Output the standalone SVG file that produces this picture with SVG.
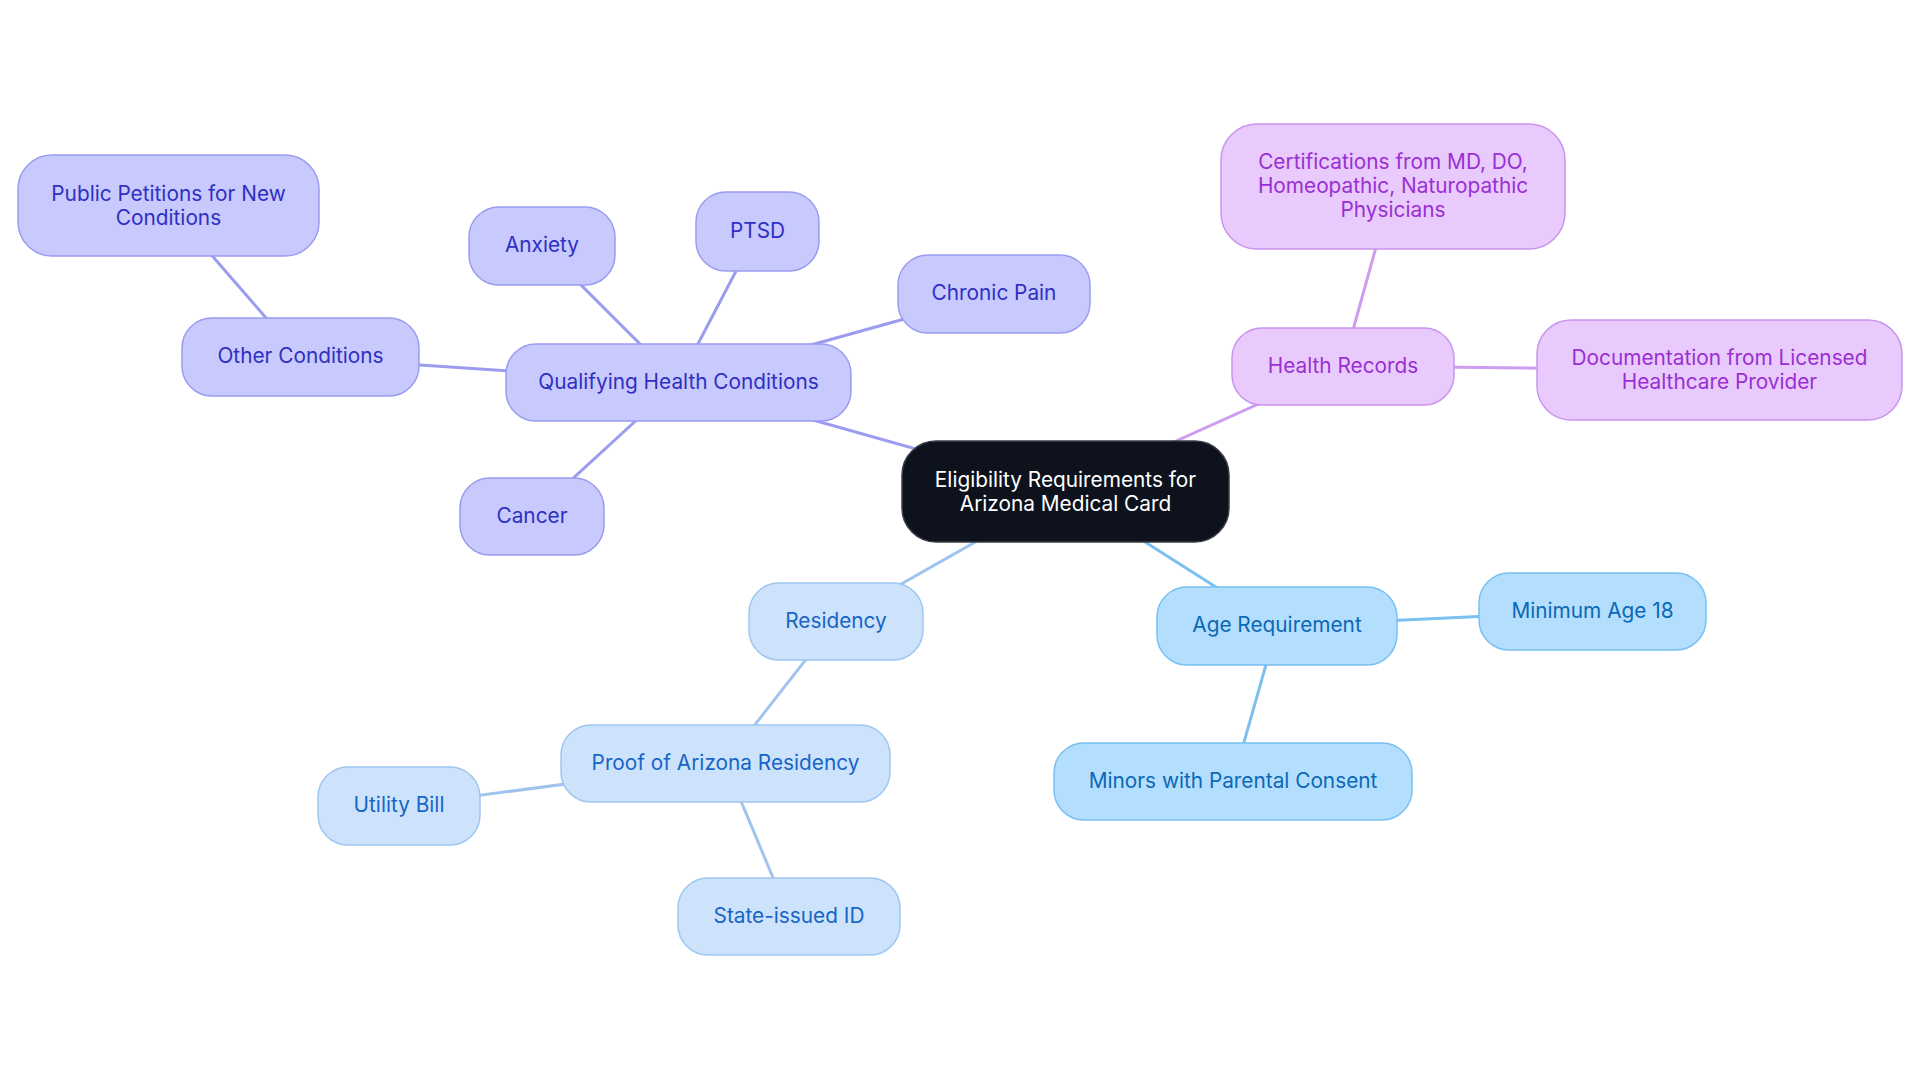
<svg xmlns="http://www.w3.org/2000/svg" width="1920" height="1083" viewBox="0 0 1920 1083">
<style>
text{font-family:Inter,"Noto Sans",sans-serif;font-size:20.8px;text-anchor:middle}
.c0 rect{fill:#0d121c;stroke:#3a3f47;stroke-width:1.5}
.c0 text{fill:#ffffff}
.p rect{fill:#c8c9fd;stroke:#9a9cf0;stroke-width:1.5}
.p text{fill:#2f2fc4}
.k rect{fill:#e8cafd;stroke:#cb93ed;stroke-width:1.5}
.k text{fill:#9a2fd3}
.r rect{fill:#cde3fb;stroke:#9ec6f1;stroke-width:1.5}
.r text{fill:#1765c6}
.a rect{fill:#b4defd;stroke:#78c0f1;stroke-width:1.5}
.a text{fill:#0b69b6}
#edges line{stroke-width:3;fill:none}
.ep{stroke:#9b9cef}
.ek{stroke:#cf9df0}
.er{stroke:#9fc5ef}
.ea{stroke:#7cc0ef}
</style>
<rect width="1920" height="1083" fill="#ffffff"/>
<g id="edges">
<line class="ep" x1="1065" y1="491" x2="678" y2="382"/>
<line class="ep" x1="678" y1="382" x2="542" y2="246"/>
<line class="ep" x1="678" y1="382" x2="757" y2="231"/>
<line class="ep" x1="678" y1="382" x2="994" y2="294"/>
<line class="ep" x1="678" y1="382" x2="300" y2="357"/>
<line class="ep" x1="300" y1="357" x2="168" y2="205"/>
<line class="ep" x1="678" y1="382" x2="532" y2="516"/>
<line class="ek" x1="1065" y1="491" x2="1343" y2="366"/>
<line class="ek" x1="1343" y1="366" x2="1393" y2="186"/>
<line class="ek" x1="1343" y1="366" x2="1719" y2="370"/>
<line class="er" x1="1065" y1="491" x2="836" y2="621"/>
<line class="er" x1="836" y1="621" x2="725" y2="763"/>
<line class="er" x1="725" y1="763" x2="399" y2="806"/>
<line class="er" x1="725" y1="763" x2="789" y2="916"/>
<line class="ea" x1="1065" y1="491" x2="1277" y2="626"/>
<line class="ea" x1="1277" y1="626" x2="1592" y2="611"/>
<line class="ea" x1="1277" y1="626" x2="1233" y2="781"/>
</g>
<g id="n-center" class="c0"><rect x="902" y="441" width="327" height="101" rx="34"/><text x="1065.5" y="486.5">Eligibility Requirements for</text><text x="1065.5" y="510.5">Arizona Medical Card</text></g>
<g id="n-qhc" class="p"><rect x="506" y="344" width="345" height="77" rx="30"/><text x="678.5" y="388.5">Qualifying Health Conditions</text></g>
<g id="n-anxiety" class="p"><rect x="469" y="207" width="146" height="78" rx="30"/><text x="542" y="252">Anxiety</text></g>
<g id="n-ptsd" class="p"><rect x="696" y="192" width="123" height="79" rx="30"/><text x="757.5" y="237.5">PTSD</text></g>
<g id="n-chronic" class="p"><rect x="898" y="255" width="192" height="78" rx="30"/><text x="994" y="300">Chronic Pain</text></g>
<g id="n-other" class="p"><rect x="182" y="318" width="237" height="78" rx="30"/><text x="300.5" y="363">Other Conditions</text></g>
<g id="n-petitions" class="p"><rect x="18" y="155" width="301" height="101" rx="34"/><text x="168.5" y="200.5">Public Petitions for New</text><text x="168.5" y="224.5">Conditions</text></g>
<g id="n-cancer" class="p"><rect x="460" y="478" width="144" height="77" rx="30"/><text x="532" y="522.5">Cancer</text></g>
<g id="n-health" class="k"><rect x="1232" y="328" width="222" height="77" rx="30"/><text x="1343" y="372.5">Health Records</text></g>
<g id="n-cert" class="k"><rect x="1221" y="124" width="344" height="125" rx="36"/><text x="1393" y="169">Certifications from MD, DO,</text><text x="1393" y="193">Homeopathic, Naturopathic</text><text x="1393" y="217">Physicians</text></g>
<g id="n-doc" class="k"><rect x="1537" y="320" width="365" height="100" rx="34"/><text x="1719.5" y="364.5">Documentation from Licensed</text><text x="1719.5" y="388.5">Healthcare Provider</text></g>
<g id="n-residency" class="r"><rect x="749" y="583" width="174" height="77" rx="30"/><text x="836" y="627.5">Residency</text></g>
<g id="n-proof" class="r"><rect x="561" y="725" width="329" height="77" rx="30"/><text x="725.5" y="769.5">Proof of Arizona Residency</text></g>
<g id="n-utility" class="r"><rect x="318" y="767" width="162" height="78" rx="30"/><text x="399" y="812">Utility Bill</text></g>
<g id="n-stateid" class="r"><rect x="678" y="878" width="222" height="77" rx="30"/><text x="789" y="922.5">State-issued ID</text></g>
<g id="n-age" class="a"><rect x="1157" y="587" width="240" height="78" rx="30"/><text x="1277" y="632">Age Requirement</text></g>
<g id="n-minage" class="a"><rect x="1479" y="573" width="227" height="77" rx="30"/><text x="1592.5" y="617.5">Minimum Age 18</text></g>
<g id="n-minors" class="a"><rect x="1054" y="743" width="358" height="77" rx="30"/><text x="1233" y="787.5">Minors with Parental Consent</text></g>
</svg>
